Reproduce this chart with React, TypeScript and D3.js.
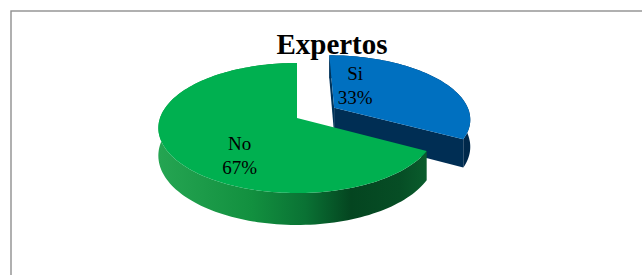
import React from "react";
import * as d3 from "d3";

// chart data
const categories = ["Si", "No"];
const values = [33, 67];
const explode = [0.323, 0];
const topColors = ["#0070C0", "#00B050"];

const W = 642;
const H = 275;

// 3D pie geometry (perspective ellipse)
const cx = 297;
const cy = 118;
const rx = 137;
const ry = 63.5;
const depth = 27;
const k = 0.154;

// label nudges relative to the mid point of each slice top
const labelShift: [number, number][] = [
  [-33, -13],
  [4, 15],
];

function proj(X: number, Z: number, h: number): [number, number] {
  const p = 1 / (1 - k * Z);
  return [cx + rx * X * p, cy + (ry * Z + depth * h) * p];
}

function arcPts(a0: number, a1: number, ox: number, oz: number, h: number) {
  const n = Math.max(8, Math.ceil(Math.abs(a1 - a0) / 0.03));
  const pts: [number, number][] = [];
  for (let i = 0; i <= n; i++) {
    const a = a0 + ((a1 - a0) * i) / n;
    pts.push(proj(ox + Math.sin(a), oz - Math.cos(a), h));
  }
  return pts;
}

const line = d3.line<[number, number]>().curve(d3.curveLinearClosed);

export default function App() {
  const pie = d3.pie<number>().sort(null).value((d) => d);
  const arcs = pie(values);
  const total = d3.sum(values);
  const pct = d3.format(".0%");

  const slices = arcs.map((a, i) => {
    const mid = (a.startAngle + a.endAngle) / 2;
    const e = explode[i];
    const ox = e * Math.sin(mid);
    const oz = -e * Math.cos(mid);
    const top = [proj(ox, oz, 0), ...arcPts(a.startAngle, a.endAngle, ox, oz, 0)];
    const wall = [
      ...arcPts(a.startAngle, a.endAngle, ox, oz, 0),
      ...arcPts(a.endAngle, a.startAngle, ox, oz, 1),
    ];
    const cut = (ang: number) => [
      proj(ox, oz, 0),
      proj(ox + Math.sin(ang), oz - Math.cos(ang), 0),
      proj(ox + Math.sin(ang), oz - Math.cos(ang), 1),
      proj(ox, oz, 1),
    ];
    const lp = proj(ox + 0.5 * Math.sin(mid), oz - 0.5 * Math.cos(mid), 0);
    return {
      i,
      top,
      wall,
      cutStart: cut(a.startAngle),
      cutEnd: cut(a.endAngle),
      label: [lp[0] + labelShift[i][0], lp[1] + labelShift[i][1]],
    };
  });

  const si = slices[0];
  const no = slices[1];

  return (
    <svg
      width={W}
      height={H}
      style={{ position: "absolute", left: 0, top: 0, background: "#fff" }}
      fontFamily="'Liberation Serif', 'Times New Roman', serif"
    >
      <defs>
        <linearGradient id="greenSide" gradientUnits="userSpaceOnUse" x1={158} x2={426} y1={0} y2={0}>
          <stop offset="0" stopColor="#25a552" />
          <stop offset="0.35" stopColor="#12903f" />
          <stop offset="0.55" stopColor="#0a7234" />
          <stop offset="0.72" stopColor="#044520" />
          <stop offset="0.9" stopColor="#064d25" />
          <stop offset="1" stopColor="#0a5c2c" />
        </linearGradient>
        <linearGradient id="blueSide" gradientUnits="userSpaceOnUse" x1={330} x2={470} y1={0} y2={0}>
          <stop offset="0" stopColor="#003259" />
          <stop offset="1" stopColor="#00284a" />
        </linearGradient>
      </defs>

      <rect x={11} y={11} width={660} height={300} fill="none" stroke="#8f8f8f" strokeWidth={1.4} />

      {/* Si slice (exploded) */}
      <path d={line(si.wall as any)!} fill="url(#blueSide)" />
      <path d={line(si.cutStart as any)!} fill="#00335a" />
      <path d={line(si.cutEnd as any)!} fill="#002e54" />
      <path d={line(si.top as any)!} fill={topColors[0]} />

      {/* No slice */}
      <path d={line(no.wall as any)!} fill="url(#greenSide)" />
      <path d={line(no.top as any)!} fill={topColors[1]} />

      <text x={332} y={54} textAnchor="middle" fontSize={29} fontWeight="bold" fill="#000">
        Expertos
      </text>

      {slices.map((s) => (
        <text key={s.i} x={s.label[0]} y={s.label[1]} textAnchor="middle" fontSize={19} fill="#000">
          <tspan x={s.label[0]}>{categories[s.i]}</tspan>
          <tspan x={s.label[0]} dy={24}>
            {pct(values[s.i] / total)}
          </tspan>
        </text>
      ))}
    </svg>
  );
}
